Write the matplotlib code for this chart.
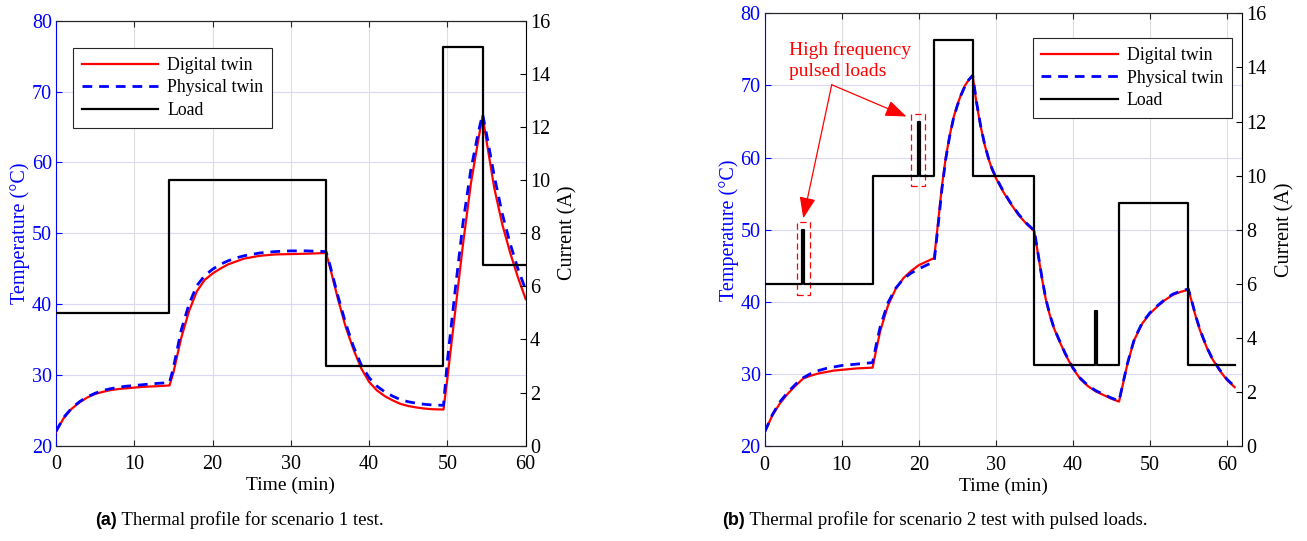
import matplotlib
matplotlib.use("Agg")
import matplotlib.pyplot as plt
from matplotlib.lines import Line2D
from matplotlib.patches import Rectangle

plt.rcParams["font.family"] = ["Liberation Serif", "DejaVu Serif"]

# Сценарий 1: время (мин), температура (°C), ток нагрузки (А)
t1 = [0, 1, 2, 3, 4, 5, 6, 7, 8, 9, 10, 11, 12, 13, 14.5,
      15, 16, 17, 18, 19, 20, 21, 22, 23, 24, 25, 26, 27, 28, 30, 32, 34.5,
      35, 36, 37, 38, 39, 40, 41, 42, 43, 44, 45, 46, 47, 48, 49.5,
      50, 51, 52, 53, 54, 54.5,
      55, 56, 57, 58, 59, 60]
digital1 = [22.0, 23.9, 25.2, 26.1, 26.8, 27.3, 27.6, 27.85, 28.0, 28.1, 28.2, 28.3, 28.35, 28.4, 28.5,
            30.3, 35.2, 39.0, 41.8, 43.4, 44.3, 45.0, 45.6, 46.0, 46.4, 46.6, 46.8, 46.9, 47.0, 47.05, 47.1, 47.2,
            45.2, 40.8, 36.8, 33.6, 30.9, 29.0, 27.8, 27.0, 26.4, 25.9, 25.6, 25.4, 25.25, 25.15, 25.1,
            29.5, 39.0, 48.5, 57.0, 63.5, 66.5,
            63.0, 56.3, 51.3, 47.3, 43.8, 40.7]
physical1 = [22.0, 24.0, 25.3, 26.2, 26.9, 27.4, 27.8, 28.05, 28.25, 28.4, 28.5, 28.6, 28.7, 28.8, 28.9,
             31.0, 36.3, 40.0, 42.6, 44.0, 44.9, 45.6, 46.1, 46.5, 46.8, 47.0, 47.2, 47.3, 47.4, 47.5, 47.5, 47.4,
             45.5, 41.2, 37.3, 34.0, 31.4, 29.6, 28.4, 27.6, 27.0, 26.5, 26.2, 26.0, 25.85, 25.75, 25.7,
             32.0, 42.0, 51.5, 59.0, 64.5, 66.8,
             64.0, 58.0, 52.8, 48.6, 45.0, 42.0]
load1_t = [0, 14.5, 34.5, 49.5, 54.5, 60]
load1_i = [5, 10, 3, 15, 6.8, 6.8]

# Сценарий 2: с импульсными нагрузками
t2 = [0, 1, 2, 3, 4, 5, 6, 7, 8, 9, 10, 11, 12, 13, 14,
      14.5, 15, 16, 17, 18, 19, 20, 21, 22,
      22.5, 23, 23.5, 24, 24.5, 25, 25.5, 26, 26.5, 27,
      27.5, 28, 28.5, 29, 29.5, 30, 31, 32, 33, 34, 35,
      35.5, 36, 36.5, 37, 37.5, 38, 39, 40, 41, 42, 43, 44, 45, 46,
      46.5, 47, 47.5, 48, 49, 50, 51, 52, 53, 54, 55,
      55.5, 56, 56.5, 57, 57.5, 58, 59, 60, 61]
digital2 = [22.0, 24.3, 26.0, 27.3, 28.4, 29.4, 29.8, 30.1, 30.3, 30.5, 30.6, 30.7, 30.8, 30.85, 30.9,
            33.5, 36.0, 39.5, 41.8, 43.3, 44.3, 45.1, 45.6, 46.1,
            51.0, 56.0, 60.0, 63.0, 65.5, 67.3, 68.8, 70.0, 70.8, 71.3,
            67.5, 64.5, 62.0, 60.0, 58.4, 57.2, 55.2, 53.5, 52.0, 50.8, 49.8,
            46.5, 43.2, 40.3, 38.2, 36.5, 35.2, 32.8, 30.8, 29.3, 28.3, 27.6, 27.1, 26.6, 26.2,
            28.6, 31.0, 33.0, 34.8, 37.0, 38.4, 39.4, 40.3, 41.0, 41.4, 41.7,
            39.8, 37.8, 36.1, 34.7, 33.4, 32.3, 30.6, 29.2, 28.2]
physical2 = [22.0, 24.4, 26.2, 27.5, 28.6, 29.5, 30.1, 30.5, 30.8, 31.0, 31.2, 31.3, 31.4, 31.5, 31.6,
             34.2, 36.6, 39.9, 41.9, 43.2, 44.0, 44.6, 45.1, 45.6,
             50.5, 55.6, 59.8, 62.9, 65.4, 67.2, 68.7, 69.9, 70.8, 71.4,
             67.7, 64.6, 62.1, 60.1, 58.5, 57.3, 55.3, 53.6, 52.1, 50.9, 49.9,
             46.6, 43.3, 40.4, 38.3, 36.6, 35.3, 32.9, 30.9, 29.4, 28.4, 27.7, 27.2, 26.7, 26.3,
             28.7, 31.1, 33.1, 34.9, 37.1, 38.5, 39.5, 40.4, 41.1, 41.5, 41.8,
             39.9, 37.9, 36.2, 34.8, 33.5, 32.4, 30.7, 29.3, 28.3]
load2_t = [0, 4.9, 5.1, 14, 19.9, 20.1, 22, 27, 35, 42.9, 43.1, 46, 55, 61]
load2_i = [6, 8, 6, 10, 12, 10, 15, 10, 3, 5, 3, 9, 3, 3]

BLUE = (0, 0, 1)
DARK = "0.15"


def make_panel(rect, t, dig, phy, lt, li, xmax, legend_loc, legend_anchor):
    ax = fig.add_axes(rect)
    ax2 = ax.twinx()

    ax.plot(t, dig, color="red", lw=1.6, zorder=3)
    ax.plot(t, phy, color=BLUE, lw=2.0, ls=(0, (3.5, 2.5)), zorder=4)
    ax2.plot(lt, li, color="black", lw=1.6, drawstyle="steps-post")

    ax.set_xlim(0, xmax)
    ax.set_ylim(20, 80)
    ax2.set_ylim(0, 16)
    ax.set_xticks(range(0, 61, 10))
    ax.set_yticks(range(20, 81, 10))
    ax2.set_yticks(range(0, 17, 2))

    ax.xaxis.grid(True, color="#dedede", lw=0.8)
    ax.yaxis.grid(True, color="#dadaf8", lw=0.8)
    ax.set_axisbelow(True)

    ax.tick_params(axis="x", direction="in", top=True, length=4, width=0.8,
                   colors=DARK, labelcolor="black", labelsize=14.5, pad=7)
    ax.tick_params(axis="y", direction="in", right=False, length=4, width=0.8,
                   colors=BLUE, labelsize=14.5, pad=3)
    ax2.tick_params(axis="y", direction="in", length=4, width=0.8,
                    colors="black", labelsize=14.5, pad=3)

    for a in (ax, ax2):
        a.spines["top"].set_color(DARK)
        a.spines["bottom"].set_color(DARK)
    ax.spines["left"].set_color(BLUE)
    ax.spines["right"].set_visible(False)
    ax2.spines["left"].set_visible(False)
    ax2.spines["right"].set_color("black")

    ax.set_xlabel("Time (min)", fontsize=14, labelpad=2)
    ax.set_ylabel("Temperature (°C)", fontsize=14.5, color=BLUE, labelpad=1)
    ax2.set_ylabel("Current (A)", fontsize=14.5, labelpad=6)

    handles = [Line2D([], [], color="red", lw=1.6),
               Line2D([], [], color=BLUE, lw=2.0, ls=(0, (3.5, 2.5))),
               Line2D([], [], color="black", lw=1.6)]
    leg = ax2.legend(handles, ["Digital twin", "Physical twin", "Load"],
                     loc=legend_loc, bbox_to_anchor=legend_anchor, fontsize=12.8,
                     frameon=True, fancybox=False, edgecolor=DARK, framealpha=1,
                     handlelength=4.3, handletextpad=0.5, borderpad=0.5,
                     labelspacing=0.32, borderaxespad=0)
    leg.get_frame().set_linewidth(0.8)
    return ax, ax2


fig = plt.figure(figsize=(13.07, 5.41), dpi=100)

make_panel([0.0428, 0.1762, 0.3594, 0.7856], t1, digital1, physical1,
           load1_t, load1_i, 60, "upper left", (0.036, 0.936))
axb, axb2 = make_panel([0.5851, 0.175, 0.3654, 0.8004], t2, digital2, physical2,
                       load2_t, load2_i, 62, "upper right", (0.978, 0.943))

# Выноска для импульсных нагрузок
axb.text(3.15, 73.4, "High frequency\npulsed loads", color="red", fontsize=14,
         ha="left", va="center", linespacing=1.3)
for tip in [(5.0, 51.6), (18.4, 65.7)]:
    axb.annotate("", xy=tip, xytext=(8.7, 70.1),
                 arrowprops=dict(arrowstyle="-|>,head_length=1.3,head_width=0.5",
                                 color="red", lw=0.9, shrinkA=0, shrinkB=0))
for (x0, y0, w, h) in [(4.15, 41.0, 1.72, 10.1), (19.04, 56.1, 1.72, 9.9)]:
    axb.add_patch(Rectangle((x0, y0), w, h, fill=False, edgecolor="red",
                            lw=0.9, ls=(0, (5, 3)), zorder=5))

# Подписи под графиками
fig.canvas.draw()
renderer = fig.canvas.get_renderer()
inv = fig.transFigure.inverted()
for x_px, tag, caption in [(95, "(a)", " Thermal profile for scenario 1 test."),
                           (722, "(b)", " Thermal profile for scenario 2 test with pulsed loads.")]:
    tx = fig.text(x_px / 1307, 0.038, tag, family="Liberation Sans", weight="bold",
                  fontsize=13, ha="left", va="center")
    bb = tx.get_window_extent(renderer)
    x_end = inv.transform((bb.x1, bb.y0))[0]
    fig.text(x_end, 0.038, caption, fontsize=13.5, ha="left", va="center")

fig.savefig("out.png", dpi=100)
